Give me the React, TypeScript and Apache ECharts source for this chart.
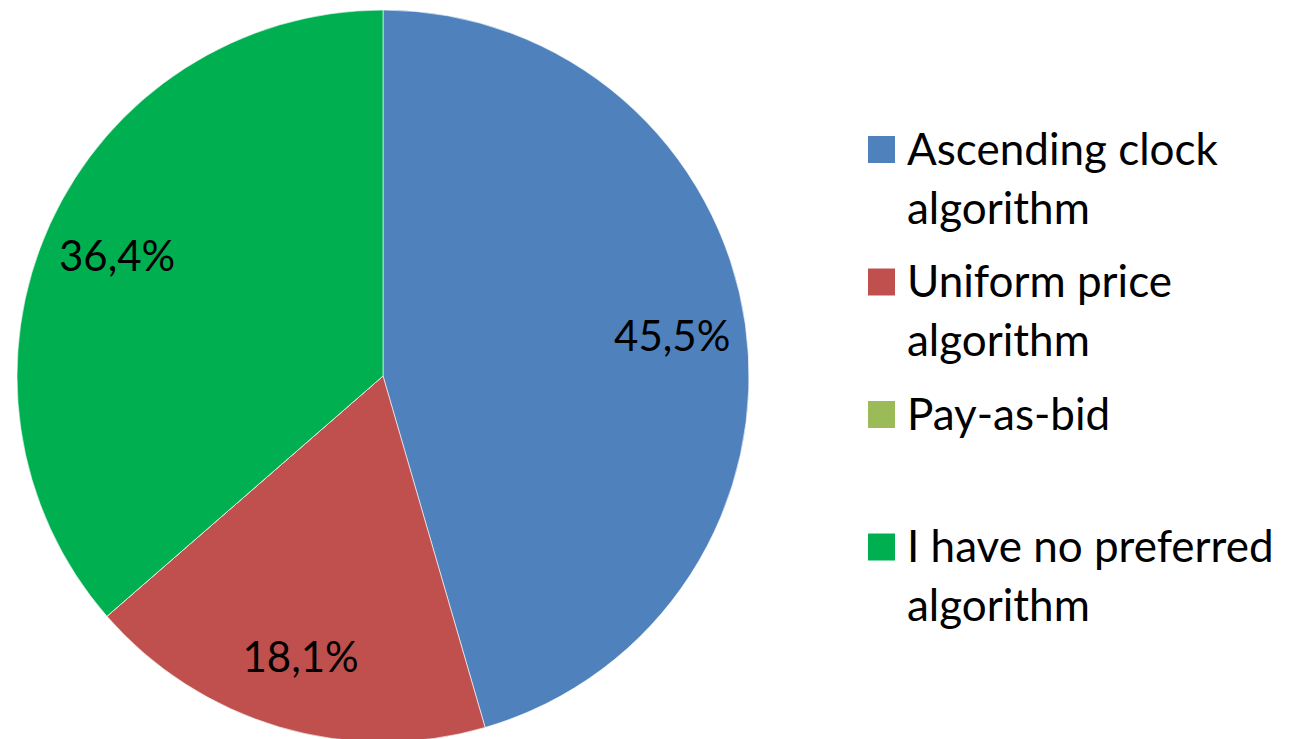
import React, { useEffect, useRef } from 'react';
import * as echarts from 'echarts';

const categories = [
  'Ascending clock algorithm',
  'Uniform price algorithm',
  'Pay-as-bid',
  'I have no preferred algorithm',
];
const legendLines = [
  'Ascending clock\nalgorithm',
  'Uniform price\nalgorithm',
  'Pay-as-bid',
  'I have no preferred\nalgorithm',
];
const shares = [45.5, 18.1, 0, 36.4];
const colors = ['#4F81BD', '#C0504D', '#9BBB59', '#00B050'];

const FONT = 'Lato, "Liberation Sans", sans-serif';

export default function App() {
  const ref = useRef<HTMLDivElement>(null);

  useEffect(() => {
    if (!ref.current) return;
    const chart = echarts.init(ref.current, undefined, { renderer: 'svg' });

    const cx = 383;
    const cy = 376;
    const r = 366;

    const pieData = categories.map((name, i) => ({
      name,
      value: shares[i],
      itemStyle: { color: colors[i] },
    }));

    const labelData = categories.map((name, i) => ({
      name,
      value: shares[i],
      label: { show: shares[i] > 0 },
    }));

    const legendX = 868;
    const legendY0 = 136;
    const pitch = 132.5;
    const box = 27;

    const legendGraphics: any[] = [];
    legendLines.forEach((txt, i) => {
      const top = legendY0 + i * pitch;
      legendGraphics.push({
        type: 'rect',
        shape: { x: legendX, y: top, width: box, height: box },
        style: { fill: colors[i] },
        silent: true,
      });
      legendGraphics.push({
        type: 'text',
        x: 907,
        y: top + box / 2 - 31.5,
        style: {
          text: txt,
          fill: '#000',
          fontSize: 44,
          fontFamily: FONT,
          lineHeight: 59,
          verticalAlign: 'top',
          align: 'left',
        },
        silent: true,
      });
    });

    chart.setOption({
      animation: false,
      backgroundColor: '#fff',
      series: [
        {
          type: 'pie',
          center: [cx, cy],
          radius: r,
          startAngle: 90,
          clockwise: true,
          silent: true,
          label: { show: false },
          labelLine: { show: false },
          itemStyle: { borderColor: 'rgba(255,255,255,0.6)', borderWidth: 1 },
          emphasis: { disabled: true },
          data: pieData,
        },
        {
          type: 'pie',
          center: [cx, cy],
          radius: [r * 0.58, r],
          startAngle: 90,
          clockwise: true,
          silent: true,
          itemStyle: { color: 'transparent', borderWidth: 0 },
          labelLine: { show: false },
          emphasis: { disabled: true },
          label: {
            show: true,
            position: 'inside',
            color: '#000',
            fontSize: 42,
            fontFamily: FONT,
            formatter: (p: any) => p.value.toFixed(1).replace('.', ',') + '%',
          },
          data: labelData,
        },
      ],
      graphic: legendGraphics,
    });

    return () => chart.dispose();
  }, []);

  return (
    <div
      ref={ref}
      style={{ position: 'fixed', left: 0, top: 0, width: 1295, height: 739 }}
    />
  );
}
